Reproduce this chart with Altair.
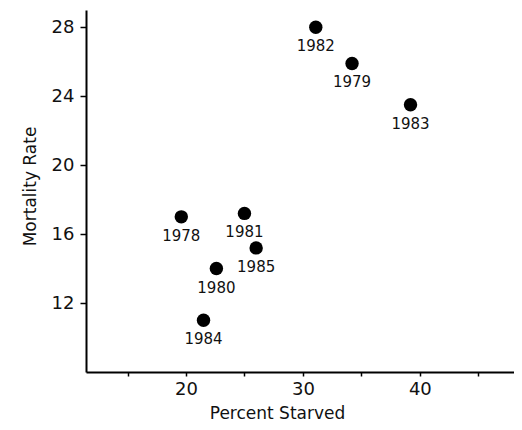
import altair as alt
import pandas as pd

years = ["1982", "1979", "1983", "1978", "1981", "1985", "1980", "1984"]
percent_starved = [31.1, 34.2, 39.2, 19.6, 25.0, 26.0, 22.6, 21.5]
mortality_rate = [28.0, 25.9, 23.5, 17.0, 17.2, 15.2, 14.0, 11.0]

x_ticks = [15, 20, 25, 30, 35, 40, 45]
y_ticks = [12, 16, 20, 24, 28]

df = pd.DataFrame({"year": years, "x": percent_starved, "y": mortality_rate})

FONT = "DejaVu Sans"

xs = alt.Scale(domain=[11.45, 48.05], nice=False, zero=False)
ys = alt.Scale(domain=[8, 29.0], nice=False, zero=False)

xaxis = alt.Axis(
    title="Percent Starved", values=x_ticks, grid=False,
    labelExpr="datum.value % 10 == 0 ? datum.label : ''",
    domainColor="black", domainWidth=2, tickColor="black", tickSize=4, tickWidth=1.5,
    labelFont=FONT, labelFontSize=18, labelColor="#111", labelPadding=4,
    titleFont=FONT, titleFontSize=17, titleFontWeight="normal", titleColor="#111",
    titleX=191, titleY=46, titleBaseline="alphabetic",
)
yaxis = alt.Axis(
    title="Mortality Rate", values=y_ticks, grid=False,
    domainColor="black", domainWidth=2, tickColor="black", tickSize=6, tickWidth=1.5,
    labelFont=FONT, labelFontSize=18, labelColor="#111", labelPadding=6,
    titleFont=FONT, titleFontSize=17, titleFontWeight="normal", titleColor="#111",
    titleX=-51, titleY=176, titleBaseline="alphabetic",
)

base = alt.Chart(df).encode(
    x=alt.X("x:Q", scale=xs, axis=xaxis),
    y=alt.Y("y:Q", scale=ys, axis=yaxis),
)

pts = base.mark_circle(size=180, color="black", opacity=1)
labels = base.mark_text(dy=19, font=FONT, fontSize=15, color="#111").encode(text="year:N")

chart = (pts + labels).properties(
    width=428, height=362,
    autosize=alt.AutoSizeParams(type="none"),
    padding={"left": 78, "top": 2, "right": 0, "bottom": 50},
).configure_view(stroke=None)

chart.save("out.html", embed_options={"renderer": "svg", "actions": False})
